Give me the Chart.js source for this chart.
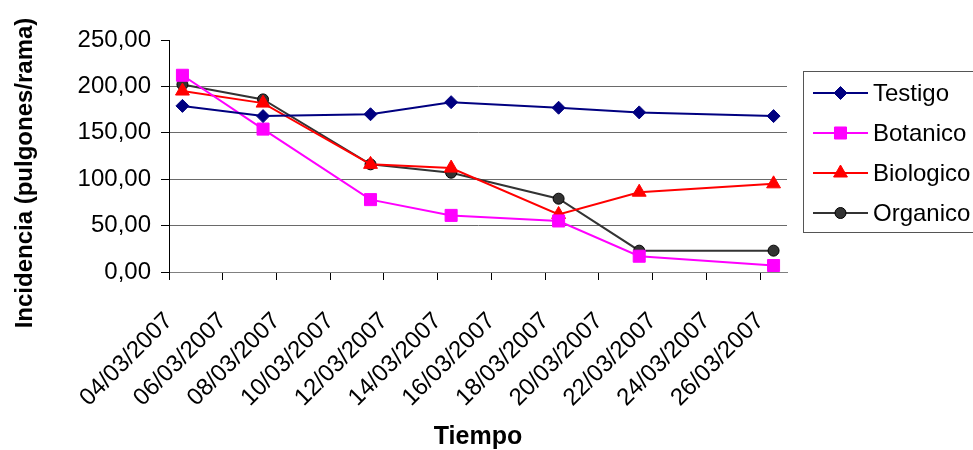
<!DOCTYPE html>
<html>
<head>
<meta charset="utf-8">
<script src="https://cdn.jsdelivr.net/npm/chart.js@4/dist/chart.umd.min.js"></script>
<style>
  html, body { margin: 0; padding: 0; background: #fff; }
  canvas { display: block; }
</style>
</head>
<body>
<canvas id="chart" width="973" height="450"></canvas>
<script>
// Sampling dates and aphid counts per treatment
const sampleDates = ['04/03/2007', '07/03/2007', '11/03/2007', '14/03/2007', '18/03/2007', '21/03/2007', '26/03/2007'];
const testigo   = [179, 168, 170, 183, 177, 172, 168];
const botanico  = [212, 154, 78, 61, 55, 17, 7];
const biologico = [195, 182, 116, 112, 62, 86, 95];
const organico  = [202, 186, 116, 107, 79, 23, 23];

// Date axis tick labels and range
const tickLabels = ['04/03/2007', '06/03/2007', '08/03/2007', '10/03/2007', '12/03/2007', '14/03/2007',
                    '16/03/2007', '18/03/2007', '20/03/2007', '22/03/2007', '24/03/2007', '26/03/2007'];
const axisStart = '04/03/2007';
const axisEnd   = '27/03/2007';
const yTicks = [0, 50, 100, 150, 200, 250];

function dayNumber(s) {
  const [d, m, y] = s.split('/').map(Number);
  return Date.UTC(y, m - 1, d) / 86400000;
}
function dayOffset(s) { return dayNumber(s) - dayNumber(axisStart); }
// each point sits in the middle of its day slot
function seriesPoints(values) {
  return sampleDates.map((d, i) => ({ x: dayOffset(d) + 0.5, y: values[i] }));
}
function fmt(v) { return v.toFixed(2).replace('.', ','); }

const FONT = "'Liberation Sans', Arial, sans-serif";

const datasets = [
  { label: 'Testigo', data: seriesPoints(testigo), borderColor: '#000080', backgroundColor: '#000080',
    pointStyle: 'rectRot', pointRadius: 6.5, pointBorderColor: '#000080', pointBackgroundColor: '#000080' },
  { label: 'Botanico', data: seriesPoints(botanico), borderColor: '#FF00FF', backgroundColor: '#FF00FF',
    pointStyle: 'rect', pointRadius: 8.5, pointBorderColor: '#FF00FF', pointBackgroundColor: '#FF00FF' },
  { label: 'Biologico', data: seriesPoints(biologico), borderColor: '#FF0000', backgroundColor: '#FF0000',
    pointStyle: 'triangle', pointRadius: 8, pointBorderColor: '#FF0000', pointBackgroundColor: '#FF0000' },
  { label: 'Organico', data: seriesPoints(organico), borderColor: '#333333', backgroundColor: '#333333',
    pointStyle: 'circle', pointRadius: 5.5, pointBorderColor: '#000000', pointBackgroundColor: '#333333' }
].map(ds => Object.assign(ds, { borderWidth: 2, pointBorderWidth: 1, tension: 0, fill: false }));

function drawMarker(ctx, style, r, x, y, fill, stroke) {
  ctx.save();
  ctx.fillStyle = fill; ctx.strokeStyle = stroke; ctx.lineWidth = 1;
  ctx.beginPath();
  if (style === 'rectRot') {
    ctx.moveTo(x, y - r); ctx.lineTo(x + r, y); ctx.lineTo(x, y + r); ctx.lineTo(x - r, y); ctx.closePath();
  } else if (style === 'rect') {
    const h = r * Math.SQRT1_2; ctx.rect(x - h, y - h, 2 * h, 2 * h);
  } else if (style === 'triangle') {
    ctx.moveTo(x, y - r);
    ctx.lineTo(x + r * Math.sin(Math.PI / 3), y + r / 2);
    ctx.lineTo(x - r * Math.sin(Math.PI / 3), y + r / 2);
    ctx.closePath();
  } else {
    ctx.arc(x, y, r, 0, Math.PI * 2);
  }
  ctx.fill(); ctx.stroke();
  ctx.restore();
}

// Boxed legend with line + marker samples, and the two axis titles
const decorations = {
  id: 'decorations',
  afterDraw(chart) {
    const ctx = chart.ctx;
    ctx.save();
    ctx.strokeStyle = '#555';
    ctx.lineWidth = 1;
    ctx.strokeRect(803.5, 71.5, 200, 161);
    chart.data.datasets.forEach((ds, i) => {
      const y = 93 + i * 40;
      ctx.strokeStyle = ds.borderColor; ctx.lineWidth = 2;
      ctx.beginPath(); ctx.moveTo(813, y); ctx.lineTo(868, y); ctx.stroke();
      drawMarker(ctx, ds.pointStyle, ds.pointRadius, 840.5, y, ds.pointBackgroundColor, ds.pointBorderColor);
      ctx.fillStyle = '#000';
      ctx.font = '24px ' + FONT;
      ctx.textAlign = 'left'; ctx.textBaseline = 'middle';
      ctx.fillText(ds.label, 873, y + 1);
    });
    ctx.font = 'bold 25px ' + FONT;
    ctx.textAlign = 'center'; ctx.textBaseline = 'middle';
    ctx.fillText('Tiempo', 478, 437);
    ctx.translate(25, 173);
    ctx.rotate(-Math.PI / 2);
    ctx.font = 'bold 24px ' + FONT;
    ctx.fillText('Incidencia (pulgones/rama)', 0, 0);
    ctx.restore();
  }
};

new Chart(document.getElementById('chart'), {
  type: 'line',
  data: { datasets },
  plugins: [decorations],
  options: {
    responsive: false,
    animation: false,
    devicePixelRatio: 1,
    layout: { padding: { left: 0, right: 186, top: 40, bottom: 0 } },
    plugins: { legend: { display: false }, tooltip: { enabled: false } },
    scales: {
      x: {
        type: 'linear',
        min: 0,
        max: dayOffset(axisEnd),
        afterFit(scale) { scale.height = 178; },
        afterBuildTicks(scale) { scale.ticks = tickLabels.map(l => ({ value: dayOffset(l) })); },
        grid: { drawOnChartArea: false, drawTicks: true, tickLength: 8, tickColor: '#000' },
        border: { display: true, color: '#808080', width: 1 },
        ticks: {
          autoSkip: false,
          minRotation: 45, maxRotation: 45,
          padding: 27,
          color: '#000',
          font: { family: FONT, size: 24 },
          callback(value) {
            const i = tickLabels.findIndex(l => dayOffset(l) === value);
            return i >= 0 ? tickLabels[i] : '';
          }
        }
      },
      y: {
        min: 0,
        max: 250,
        afterFit(scale) { scale.width = 169; },
        afterBuildTicks(scale) { scale.ticks = yTicks.map(v => ({ value: v })); },
        grid: {
          color: c => (c.tick && c.tick.value === 250) ? 'rgba(0,0,0,0)' : '#6a6a6a',
          lineWidth: 1,
          tickLength: 8,
          tickColor: '#000'
        },
        border: { display: true, color: '#000', width: 1 },
        ticks: {
          padding: 10,
          color: '#000',
          font: { family: FONT, size: 24 },
          callback(value) { return fmt(value); }
        }
      }
    }
  }
});
</script>
</body>
</html>
